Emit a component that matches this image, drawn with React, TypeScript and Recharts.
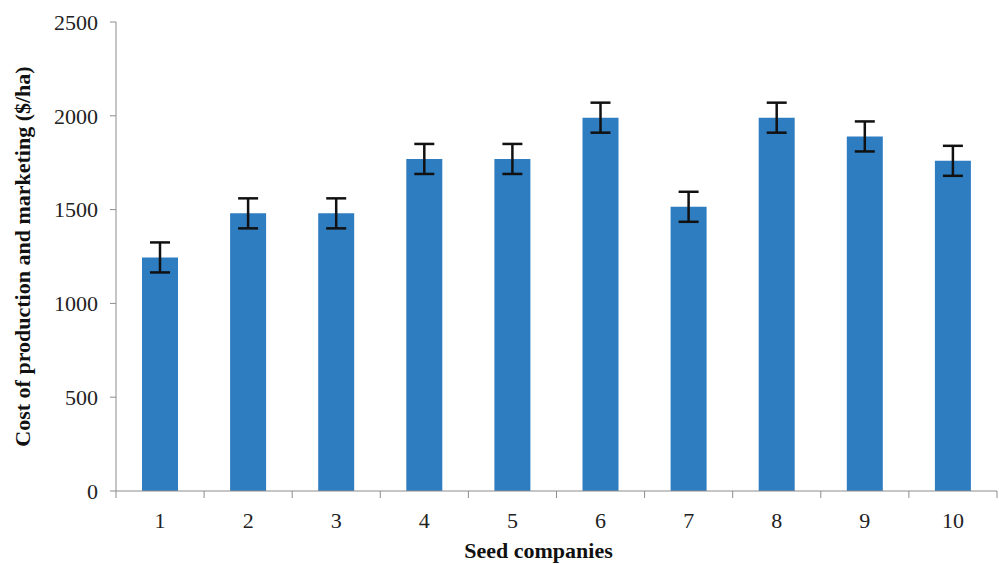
import { BarChart, Bar, XAxis, YAxis, ErrorBar } from 'recharts';

const companies = ['1', '2', '3', '4', '5', '6', '7', '8', '9', '10'];
const cost = [1245, 1480, 1480, 1770, 1770, 1990, 1515, 1990, 1890, 1760];
const costErr = [80, 80, 80, 80, 80, 80, 80, 80, 80, 80];
const yTicks = [0, 500, 1000, 1500, 2000, 2500];

const W = 999;
const H = 564;
const MARGIN = { top: 22, right: 2, bottom: 0, left: 0 };
const Y_AXIS_W = 116;
const X_AXIS_H = 73;
const BAND = (W - MARGIN.left - Y_AXIS_W - MARGIN.right) / companies.length;

const FONT = '"Liberation Serif", "Times New Roman", serif';
const BAR_COLOR = '#2E7DC0';
const AXIS_COLOR = '#8c8c8c';

const data = companies.map((name, i) => ({ name, cost: cost[i], err: costErr[i] }));

// category ticks sit between the bars, label in the middle of the band
// (tickSize/tickMargin are 0, so y is the axis line itself)
const CategoryTick = (props: any) => {
  const { x, y, payload, index } = props;
  const left = x - BAND / 2;
  return (
    <g>
      <line x1={left} y1={y} x2={left} y2={y + 7} stroke={AXIS_COLOR} strokeWidth={1} />
      {index === companies.length - 1 && (
        <line x1={x + BAND / 2} y1={y} x2={x + BAND / 2} y2={y + 7} stroke={AXIS_COLOR} strokeWidth={1} />
      )}
      <text x={x} y={y + 37} textAnchor="middle" fontFamily={FONT} fontSize={22} fill="#222">
        {payload.value}
      </text>
    </g>
  );
};

export default function App() {
  return (
    <div style={{ position: 'absolute', left: 0, top: 0, width: W, height: H, background: '#fff' }}>
      <BarChart width={W} height={H} data={data} margin={MARGIN} barSize={36}>
        <XAxis
          dataKey="name"
          height={X_AXIS_H}
          stroke={AXIS_COLOR}
          tickLine={false}
          tickSize={0}
          tickMargin={0}
          interval={0}
          tick={<CategoryTick />}
          label={{
            value: 'Seed companies',
            position: 'insideBottom',
            offset: 6,
            dx: -18,
            fontFamily: FONT,
            fontSize: 22,
            fontWeight: 'bold',
            fill: '#111',
          }}
        />
        <YAxis
          width={Y_AXIS_W}
          domain={[0, 2500]}
          ticks={yTicks}
          interval={0}
          stroke={AXIS_COLOR}
          tickSize={6}
          tickMargin={12}
          tick={{ fontFamily: FONT, fontSize: 22, fill: '#222' }}
          label={{
            value: 'Cost of production and marketing ($/ha)',
            angle: -90,
            position: 'insideLeft',
            offset: 22,
            style: { textAnchor: 'middle' },
            fontFamily: FONT,
            fontSize: 22,
            fontWeight: 'bold',
            fill: '#111',
          }}
        />
        <Bar dataKey="cost" fill={BAR_COLOR} isAnimationActive={false}>
          <ErrorBar dataKey="err" width={10} stroke="#111" strokeWidth={2.5} isAnimationActive={false} />
        </Bar>
      </BarChart>
    </div>
  );
}
